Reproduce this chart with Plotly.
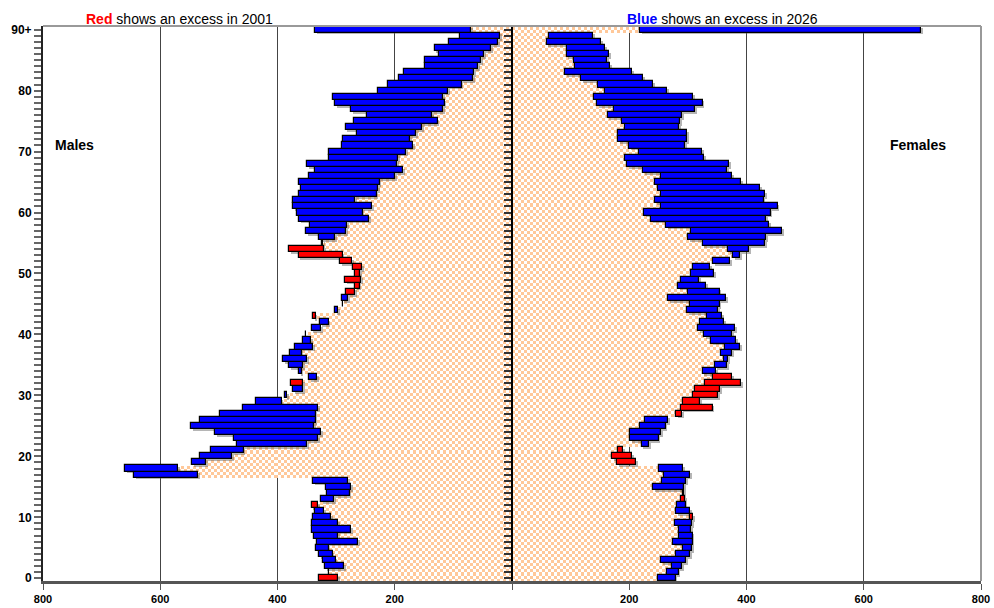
import numpy as np
import plotly.graph_objects as go

# Single-year age groups, 0 .. 90+ (index 90 is the open-ended group)
ages = list(range(91))
age_tick_text = ["0", "10", "20", "30", "40", "50", "60", "70", "80", "90+"]

# Population by single year of age (ages 0 .. 90+)
males_2001 = [330, 312, 286, 301, 306, 313, 263, 297, 274, 297,
              308, 320, 342, 303, 277, 274, 279, 536, 570, 522,
              477, 458, 349, 331, 325, 337, 335, 335, 331, 393,
              383, 356, 377, 333, 359, 357, 349, 359, 340, 343,
              351, 325, 313, 339, 296, 288, 279, 284, 267, 285,
              267, 271, 293, 364, 380, 323, 302, 283, 282, 244,
              255, 238, 268, 231, 229, 226, 199, 186, 196, 194,
              181, 169, 174, 164, 154, 127, 136, 118, 115, 118,
              109, 86, 67, 64, 58, 53, 47, 36, 24, 20,
              70]
males_2026 = [297, 312, 319, 322, 329, 334, 332, 338, 342, 342,
              339, 336, 331, 325, 316, 317, 339, 645, 660, 545,
              533, 513, 469, 474, 506, 548, 533, 498, 459, 437,
              387, 374, 357, 346, 363, 380, 390, 379, 370, 357,
              351, 342, 328, 335, 302, 288, 290, 267, 260, 258,
              259, 256, 273, 289, 320, 324, 329, 351, 344, 363,
              366, 373, 373, 363, 360, 364, 347, 336, 350, 313,
              313, 290, 289, 264, 284, 270, 248, 274, 302, 306,
              229, 211, 193, 185, 148, 148, 124, 132, 107, 88,
              336]
females_2001 = [249, 265, 273, 255, 280, 291, 275, 284, 285, 278,
                309, 280, 282, 295, 291, 241, 256, 259, 251, 212,
                205, 189, 221, 202, 201, 219, 227, 290, 342, 321,
                351, 355, 391, 375, 325, 346, 362, 356, 363, 340,
                328, 318, 320, 332, 299, 304, 266, 301, 283, 288,
                305, 309, 343, 377, 369, 325, 301, 306, 263, 237,
                226, 255, 244, 255, 249, 244, 254, 223, 197, 193,
                216, 200, 181, 180, 193, 188, 163, 174, 145, 140,
                158, 147, 118, 91, 107, 106, 93, 94, 59, 63,
                219]
females_2026 = [279, 284, 290, 297, 304, 307, 308, 308, 305, 307,
                304, 303, 296, 289, 293, 293, 297, 304, 292, 179,
                171, 181, 234, 250, 254, 262, 266, 280, 289, 292,
                309, 312, 329, 343, 348, 367, 368, 376, 389, 382,
                375, 381, 362, 358, 351, 354, 365, 354, 331, 319,
                345, 338, 372, 389, 405, 431, 433, 461, 438, 433,
                441, 453, 429, 432, 423, 390, 375, 367, 370, 327,
                324, 295, 299, 299, 285, 287, 290, 312, 325, 309,
                265, 241, 224, 205, 168, 162, 166, 158, 152, 138,
                698]

RED = "#ff0000"
BLUE = "#0000ff"
CHECK = "#ffc899"
FONT = "Arial, Liberation Sans, sans-serif"

m01, m26 = np.array(males_2001), np.array(males_2026)
f01, f26 = np.array(females_2001), np.array(females_2026)
m_common = np.minimum(m01, m26)
f_common = np.minimum(f01, f26)

# Checkerboard fill for the population common to both years
ncell = 156
cw = 800 / ncell
xc = (np.arange(-ncell, ncell) + 0.5) * cw
yc = np.arange(-0.5, 90.5, 0.5) + 0.25
z = np.full((len(yc), len(xc)), np.nan)
for j, yv in enumerate(yc):
    a = int(min(90, max(0, np.floor(yv + 0.5))))
    for i, xv in enumerate(xc):
        lim = m_common[a] if xv < 0 else f_common[a]
        if abs(xv) < lim:
            z[j, i] = (i + j) % 2

fig = go.Figure()
fig.add_trace(go.Heatmap(
    x=xc, y=yc, z=z, zmin=0, zmax=1, showscale=False, hoverinfo="skip",
    colorscale=[[0, "#ffffff"], [0.5, "#ffffff"], [0.5, CHECK], [1, CHECK]],
))


# Excess bars: from the common level out to the larger of the two years
def excess(p01, p26, sign):
    base = np.minimum(p01, p26)
    diff = np.abs(p26 - p01)
    colors = [RED if a > b else BLUE for a, b in zip(p01, p26)]
    return sign * base, sign * diff, colors


for p01, p26, sign in [(m01, m26, -1), (f01, f26, 1)]:
    base, length, colors = excess(p01, p26, sign)
    # soft drop shadow, nudged right/down
    fig.add_trace(go.Bar(
        y=np.array(ages) - 0.28, x=length, base=base + 3.2, orientation="h", width=1.0,
        marker=dict(color="rgba(90,90,90,0.45)", line=dict(width=0)),
        hoverinfo="skip", showlegend=False,
    ))
    fig.add_trace(go.Bar(
        y=ages, x=length, base=base, orientation="h", width=1.0,
        marker=dict(color=colors, line=dict(color="black", width=1.2)),
        hoverinfo="skip", showlegend=False,
    ))

# Invisible trace so the centre age axis is drawn
fig.add_trace(go.Scatter(x=[0], y=[0], yaxis="y2", mode="markers",
                         marker=dict(opacity=0), hoverinfo="skip", showlegend=False))

x_ticks = [-800, -600, -400, -200, 0, 200, 400, 600, 800]
x_text = ["800", "600", "400", "200", "", "200", "400", "600", "800"]
y_text = [age_tick_text[a // 10] if a % 10 == 0 else "" for a in ages]
y_range = [-0.45, 90.6]

fig.update_layout(
    width=994, height=608,
    margin=dict(l=43, r=13, t=26, b=27),
    paper_bgcolor="white", plot_bgcolor="white",
    barmode="overlay", bargap=0,
    showlegend=False,
    font=dict(family=FONT, color="black"),
    xaxis=dict(
        range=[-800, 800], tickvals=x_ticks, ticktext=x_text, automargin=False,
        showgrid=True, gridcolor="#444444", gridwidth=1, zeroline=False,
        showline=True, linecolor="#555555", linewidth=3,
        ticks="outside", ticklen=6, tickcolor="#555555",
        tickfont=dict(size=11, weight="bold", family=FONT),
    ),
    yaxis=dict(
        range=y_range, tickvals=ages, ticktext=y_text, automargin=False,
        showgrid=False, zeroline=False,
        showline=True, linecolor="#222222", linewidth=2,
        ticks="outside", ticklen=7, tickcolor="#666666", tickwidth=2,
        tickfont=dict(size=12, weight="bold", family=FONT),
    ),
    yaxis2=dict(
        range=y_range, overlaying="y", anchor="free", position=0.5, side="left",
        tickvals=ages, showticklabels=False, showgrid=False, zeroline=False,
        automargin=False,
        showline=True, linecolor="black", linewidth=2,
        ticks="outside", ticklen=7, tickcolor="#333333", tickwidth=1.5,
    ),
    shapes=[
        dict(type="line", xref="paper", yref="paper", x0=0, x1=1, y0=1, y1=1,
             line=dict(color="#999999", width=2)),
        dict(type="line", xref="paper", yref="paper", x0=1, x1=1, y0=0, y1=1,
             line=dict(color="#999999", width=2)),
    ],
    annotations=[
        dict(xref="paper", yref="paper", x=0.146, y=1, xanchor="center", yanchor="bottom",
             yshift=-3, showarrow=False, font=dict(size=14, family=FONT),
             text="<b><span style='color:#ff0000'>Red</span></b> shows an excess in 2001"),
        dict(xref="paper", yref="paper", x=0.724, y=1, xanchor="center", yanchor="bottom",
             yshift=-3, showarrow=False, font=dict(size=14, family=FONT),
             text="<b><span style='color:#0000ff'>Blue</span></b> shows an excess in 2026"),
        dict(x=-747, y=71, xref="x", yref="y", showarrow=False,
             font=dict(size=14, family=FONT, weight="bold"), text="Males"),
        dict(x=693, y=71, xref="x", yref="y", showarrow=False,
             font=dict(size=14, family=FONT, weight="bold"), text="Females"),
    ],
)

fig.write_html("out.html")
